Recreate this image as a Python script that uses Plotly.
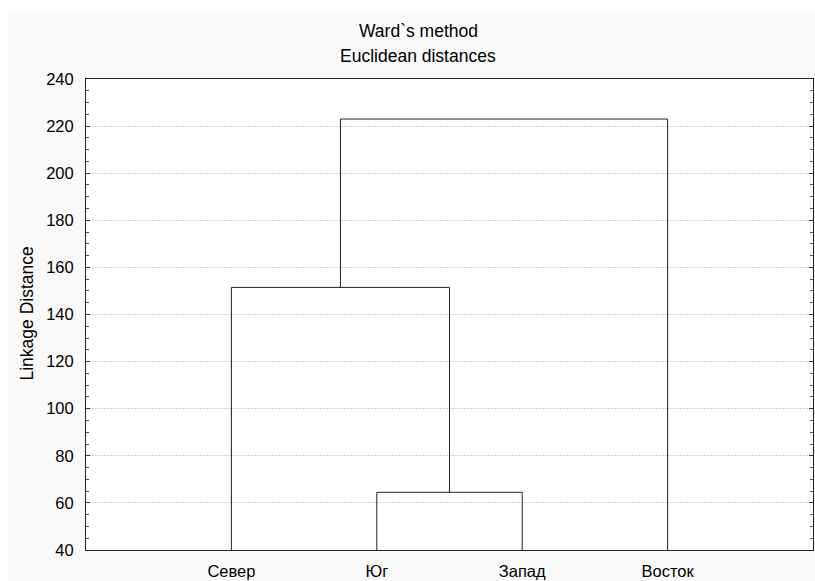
import plotly.graph_objects as go

# ---- data ----
leaf_labels = ["Север", "Юг", "Запад", "Восток"]
# merges: (left member, right member, linkage distance); members are leaf names or merge indices
merge_left = ["Юг", "Север", 1]
merge_right = ["Запад", 0, "Восток"]
merge_height = [64.5, 151.5, 223.0]
y_ticks = [40, 60, 80, 100, 120, 140, 160, 180, 200, 220, 240]
title_lines = ["Tree Diagram for 4 Variables", "Ward`s method", "Euclidean distances"]
y_title = "Linkage Distance"

# ---- layout constants ----
W, H = 815, 581
ML, MR, MT, MB = 86, 2, 79, 31
PW, PH = W - ML - MR, H - MT - MB
y_min, y_max = y_ticks[0], y_ticks[-1]
x_min, x_max = 0, len(leaf_labels) + 1
FONT = "Liberation Sans, Arial, sans-serif"
FS = 16
TFS = 17.5

def px_to_xpaper(px):
    return (px - ML) / PW

def px_to_ypaper(py):
    return (H - MB - py) / PH

def px_to_ydata(py):
    return y_max + (MT - py) * (y_max - y_min) / PH

def px_to_xdata(px):
    return x_min + (px - ML) * (x_max - x_min) / PW

leaf_pos = {name: i + 1 for i, name in enumerate(leaf_labels)}
node_x = []
node_h = []

def member(m):
    if isinstance(m, str):
        return leaf_pos[m], y_min
    return node_x[m], node_h[m]

fig = go.Figure()
for l, r, h in zip(merge_left, merge_right, merge_height):
    xl, hl = member(l)
    xr, hr = member(r)
    fig.add_trace(go.Scatter(
        x=[xl, xl, xr, xr], y=[hl, h, h, hr], mode="lines",
        line=dict(color="#222222", width=1), hoverinfo="skip", showlegend=False))
    node_x.append((xl + xr) / 2)
    node_h.append(h)

# first (cut-off) title line as text behind the white top band
fig.add_trace(go.Scatter(
    x=[px_to_xdata(418)], y=[px_to_ydata(8.5)], mode="text", text=[title_lines[0]],
    textposition="middle center", textfont=dict(family=FONT, size=TFS, color="#000"),
    cliponaxis=False, hoverinfo="skip", showlegend=False))

fig.update_layout(
    width=W, height=H,
    margin=dict(l=ML, r=MR, t=MT, b=MB, pad=0, autoexpand=False),
    paper_bgcolor="#f9f9f9", plot_bgcolor="#ffffff",
    font=dict(family=FONT, size=FS, color="#000"),
    showlegend=False,
    shapes=[
        dict(type="rect", xref="paper", yref="paper", layer="above",
             x0=px_to_xpaper(-5), x1=px_to_xpaper(W + 5),
             y0=px_to_ypaper(11.5), y1=px_to_ypaper(-5),
             fillcolor="#ffffff", line=dict(width=0)),
        dict(type="rect", xref="paper", yref="paper", layer="below",
             x0=px_to_xpaper(-5), x1=px_to_xpaper(8),
             y0=px_to_ypaper(H + 5), y1=px_to_ypaper(-5),
             fillcolor="#ffffff", line=dict(width=0)),
    ],
    annotations=[
        dict(text=title_lines[1], xref="paper", yref="paper",
             x=px_to_xpaper(418), y=px_to_ypaper(31), xanchor="center", yanchor="middle",
             showarrow=False, font=dict(family=FONT, size=TFS, color="#000")),
        dict(text=title_lines[2], xref="paper", yref="paper",
             x=px_to_xpaper(418), y=px_to_ypaper(56.5), xanchor="center", yanchor="middle",
             showarrow=False, font=dict(family=FONT, size=TFS, color="#000")),
        dict(text=y_title, xref="paper", yref="paper", textangle=-90,
             x=px_to_xpaper(26), y=px_to_ypaper(313.5), xanchor="center", yanchor="middle",
             showarrow=False, font=dict(family=FONT, size=TFS, color="#000")),
    ],
)

fig.update_xaxes(
    range=[x_min, x_max], tickvals=list(range(1, len(leaf_labels) + 1)), ticktext=leaf_labels,
    ticks="", showgrid=False, zeroline=False, showline=True, linecolor="#222", linewidth=1,
    mirror=True, ticklabelstandoff=6, tickfont=dict(size=FS + 0.5), automargin=False,
)
fig.update_yaxes(
    range=[y_min, y_max], tickvals=y_ticks, ticks="inside", ticklen=4, tickcolor="#333",
    showgrid=True, gridcolor="#cfcfcf", griddash="2px,1px", gridwidth=1,
    zeroline=False, showline=True, linecolor="#222", linewidth=1, mirror="ticks",
    minor=dict(dtick=5, ticks="inside", ticklen=3, tickcolor="#555", showgrid=False),
    ticklabelstandoff=8, tickfont=dict(size=FS + 0.5), automargin=False,
)

fig.write_html("out.html")
